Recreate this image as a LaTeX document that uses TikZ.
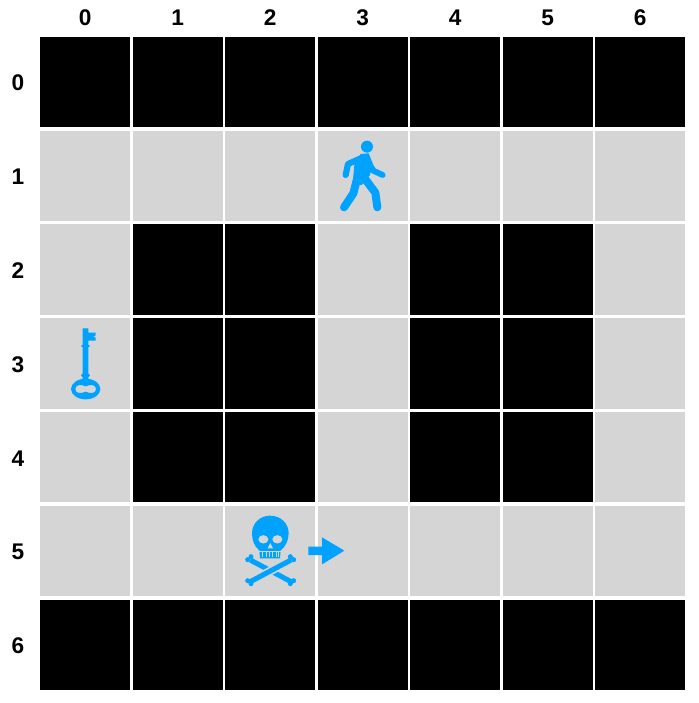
\documentclass[tikz,border=0pt]{standalone}
\usepackage{fontspec}
\setmainfont{Liberation Sans}
\definecolor{icon}{HTML}{00A2FF}
\definecolor{floorgray}{HTML}{D5D5D5}
\tikzset{
  wall/.style={fill=black,minimum width=67.6pt,minimum height=67.7pt,inner sep=0pt},
  floorcell/.style={fill=floorgray,minimum width=67.6pt,minimum height=67.7pt,inner sep=0pt},
  lbl/.style={font=\bfseries\fontsize{17}{20}\selectfont,inner sep=0pt},
  icn/.style={x=.25pt,y=-.25pt,line cap=round,line join=round,icon}
}
\begin{document}
\begin{tikzpicture}[x=.75pt,y=-.75pt]
  \useasboundingbox (0,0) rectangle (699,703);
  \def\cx#1{85.2+92.5*#1}\def\cy#1{82+93.8*#1}
  % labels
  \foreach \c in {0,...,6} \node[lbl] (top\c) at ({\cx{\c}},18) {\c};
  \foreach \r in {0,...,6} \node[lbl] (side\r) at (18,{\cy{\r}+1}) {\r};
  % grid
  \foreach \r in {0,6}\foreach \c in {0,...,6} \node[wall] (c\r\c) at ({\cx{\c}},{\cy{\r}}) {};
  \foreach \r in {2,3,4}\foreach \c in {1,2,4,5} \node[wall] (c\r\c) at ({\cx{\c}},{\cy{\r}}) {};
  \foreach \r in {1,5}\foreach \c in {0,...,6} \node[floorcell] (c\r\c) at ({\cx{\c}},{\cy{\r}}) {};
  \foreach \r in {2,3,4}\foreach \c in {0,3,6} \node[floorcell] (c\r\c) at ({\cx{\c}},{\cy{\r}}) {};
  % walker
  \begin{scope}[shift={(320,130)},icn]
    \fill (141,50) circle (18);
    \fill (122,72) -- (146,70) -- (158,100) -- (150,135) -- (125,165) -- (98,160) -- (104,95) -- cycle;
    \draw[line width=4.6pt] (120,86) -- (84,102) -- (77,135);
    \draw[line width=4.4pt] (148,102) -- (160,122) -- (188,135);
    \draw[line width=6pt] (113,140) -- (100,190) -- (72,232);
    \draw[line width=6pt] (130,140) -- (166,188) -- (172,232);
  \end{scope}
  % key
  \begin{scope}[shift={(40,320)},icn]
    \fill (128,25) -- (145,25) -- (145,38) -- (167,38) -- (167,46) -- (160,50) -- (167,53) -- (167,62) -- (145,62) -- (145,74) -- (150,78) -- (145,82) -- (145,160) -- (150,166) -- (145,172) -- (145,180) -- (128,180) -- (128,172) -- (123,166) -- (128,160) -- (128,82) -- (123,78) -- (128,74) -- cycle;
    \fill[even odd rule] (137,207) ellipse (44 and 31)
      (137,199) .. controls (122,192) and (106,194) .. (106,207) .. controls (106,221) and (122,222) .. (137,215) .. controls (152,222) and (168,221) .. (168,207) .. controls (168,194) and (152,192) .. (137,199) -- cycle;
  \end{scope}
  % skull and bones
  \begin{scope}[shift={(225,505)},icn]
    \fill (105,160) -- (103,136) .. controls (88,125) and (81,105) .. (81,85) .. controls (81,55) and (105,32) .. (135,32) .. controls (167,32) and (191,55) .. (191,85) .. controls (191,105) and (182,125) .. (167,136) -- (165,160) -- cycle;
    \fill[floorgray] (115,103) ellipse (15 and 12.5) (157,103) ellipse (15 and 12.5);
    \fill[floorgray] (136,114) -- (144,130) -- (128,130) -- cycle;
    \foreach \t in {113,123,133,143,153,160}
      \fill[floorgray] (\t-1.5,141) rectangle (\t+1.5,156);
    \fill[floorgray] (103,137) rectangle (167,141);
    \draw[line width=3.8pt,line cap=butt] (76,165) -- (198,230);
    \draw[floorgray,line width=6.4pt,line cap=butt] (112,211) -- (162,184);
    \draw[line width=3.8pt,line cap=butt] (198,165) -- (76,230);
    \fill (68,164) circle (7.5) (78,155) circle (7.5) (196,236) circle (7.5) (206,227) circle (7.5);
    \fill (206,164) circle (7.5) (196,155) circle (7.5) (78,236) circle (7.5) (68,227) circle (7.5);
  \end{scope}
  % arrow
  \begin{scope}[shift={(225,505)},icn]
    \fill (250,125) -- (291,125) -- (291,97) -- (358,137) -- (291,178) -- (291,150) -- (250,150) -- cycle;
  \end{scope}
\end{tikzpicture}
\end{document}
